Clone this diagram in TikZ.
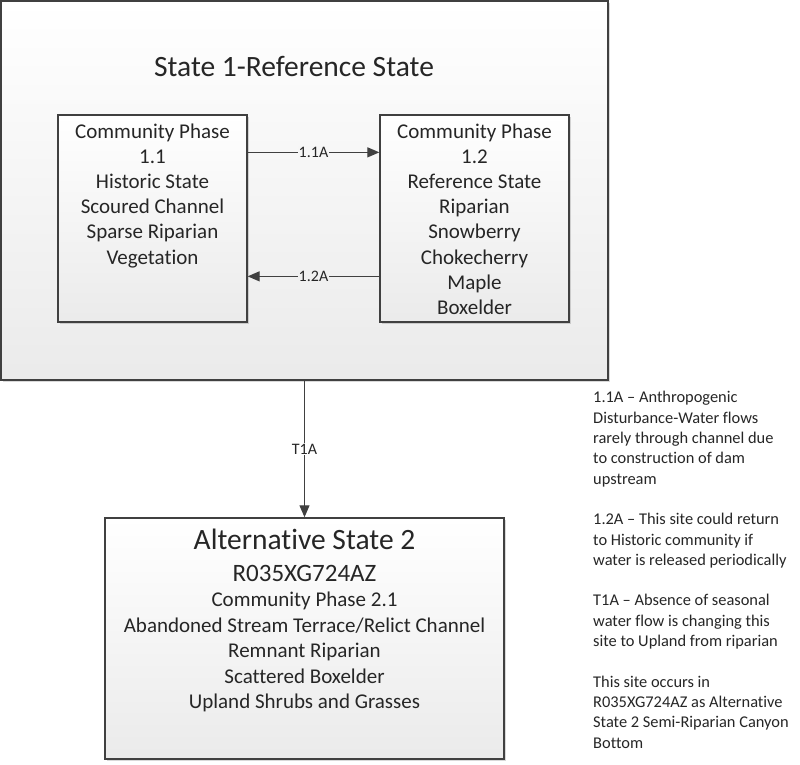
\documentclass[tikz,border=0pt]{standalone}
\usepackage{fontspec}
\setmainfont{Carlito}[Ligatures={TeX,NoCommon}]
\usetikzlibrary{arrows.meta,shadows}
\definecolor{ln}{HTML}{404040}
\definecolor{tx}{HTML}{262626}
\begin{document}
\begin{tikzpicture}[x=1pt,y=-1pt,
  statebox/.style={draw=ln, line width=1.5pt, top color=white, bottom color=black!8, inner sep=0pt,
    drop shadow={shadow xshift=1.5pt, shadow yshift=-1.5pt, opacity=0.15, fill=black}},
  phasebox/.style={draw=ln, line width=1.3pt, top color=white, bottom color=black!8, inner sep=0pt,
    drop shadow={shadow xshift=1.5pt, shadow yshift=-1.5pt, opacity=0.15, fill=black}},
  bodytext/.style={font=\fontsize{21}{25.2}\selectfont, text=tx, align=center, inner sep=0pt, anchor=north},
  conn/.style={draw=ln, line width=1.2pt, -{Triangle[length=12pt,width=10pt]}},
  lab/.style={font=\fontsize{16}{19}\selectfont, text=tx, inner sep=1pt}]
\useasboundingbox (0,0) rectangle (800,764);
\fill[white] (0,0) rectangle (800,764);

% boxes
\node[statebox, minimum width=607pt, minimum height=379pt] (s1) at (304.5,190.5) {};
\node[phasebox, minimum width=189pt, minimum height=207pt] (b11) at (152.5,218.5) {};
\node[phasebox, minimum width=189pt, minimum height=207pt] (b12) at (474.5,218.5) {};
\node[statebox, minimum width=399pt, minimum height=241pt] (b2) at (304.5,638.5) {};

% title of state 1
\node[font=\fontsize{29.5}{35}\selectfont, text=tx, anchor=base, inner sep=0pt] (s1title) at (294,76.5) {State 1-Reference State};

% phase texts
\node[bodytext] (t11) at ([yshift=-6pt]b11.north) {\strut Community Phase\\1.1\\Historic State\\Scoured Channel\\Sparse Riparian\\Vegetation};
\node[bodytext] (t12) at ([yshift=-6pt]b12.north) {\strut Community Phase\\1.2\\Reference State\\Riparian\\Snowberry\\Chokecherry\\Maple\\Boxelder};

% state 2 texts
\node[font=\fontsize{29.5}{35}\selectfont, text=tx, anchor=base, inner sep=0pt] (t2a) at (304.5,549.5) {Alternative State 2};
\node[font=\fontsize{25}{30}\selectfont, text=tx, anchor=base, inner sep=0pt] (t2b) at (304.5,581) {R035XG724AZ};
\node[font=\fontsize{21}{25.5}\selectfont, text=tx, align=center, inner sep=0pt, anchor=north] (t2c) at (304.5,588.5)
  {\strut Community Phase 2.1\\Abandoned Stream Terrace/Relict Channel\\Remnant Riparian\\Scattered Boxelder\\Upland Shrubs and Grasses};

% connectors
\draw[conn] ([yshift=-38pt]b11.north east) -- node[lab, fill=black!3.5] (l11) {1.1A} ([yshift=-38pt]b12.north west);
\draw[conn] ([yshift=-162pt]b12.north west) -- node[lab, fill=black!6] (l12) {1.2A} ([yshift=-162pt]b11.north east);
\draw[conn] (s1.south) -- node[lab, fill=white] (lt1) {T1A} (b2.north);

% notes
\node[anchor=north west, align=left, font=\fontsize{16.4}{20.3}\selectfont, text=tx, inner sep=0pt] (notes) at (593,388.5)
  {\strut 1.1A – Anthropogenic\\
   Disturbance-Water flows\\
   rarely through channel due\\
   to construction of dam\\
   upstream\\[20.3pt]
   1.2A – This site could return\\
   to Historic community if\\
   water is released periodically\\[20.3pt]
   T1A – Absence of seasonal\\
   water flow is changing this\\
   site to Upland from riparian\\[20.3pt]
   This site occurs in\\
   R035XG724AZ as Alternative\\
   State 2 Semi-Riparian Canyon\\
   Bottom};
\end{tikzpicture}
\end{document}
